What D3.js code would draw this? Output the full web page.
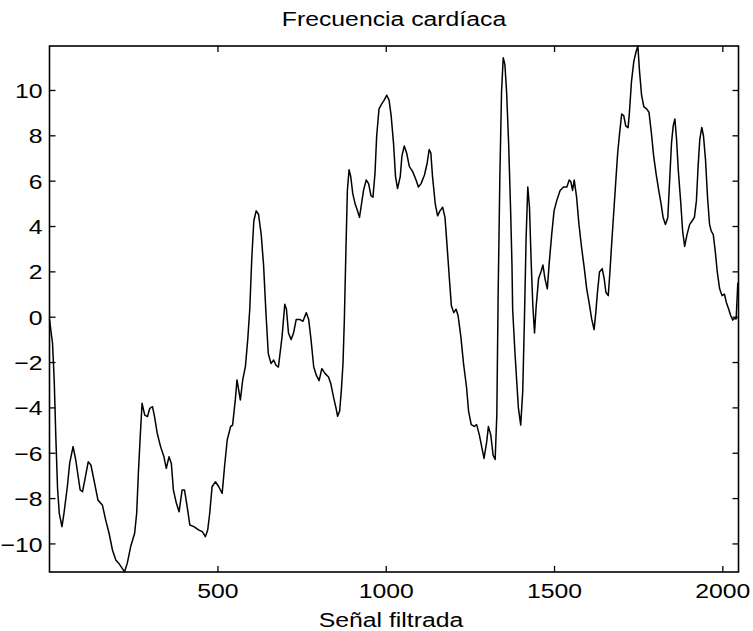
<!DOCTYPE html>
<html>
<head>
<meta charset="utf-8">
<script src="https://cdn.jsdelivr.net/npm/d3@7"></script>
<style>
  body { margin: 0; background: #fff; }
  svg { display: block; }
  text { font-family: "Liberation Sans", Arial, Helvetica, sans-serif; fill: #000; }
</style>
</head>
<body>
<svg width="753" height="631"></svg>
<script>
// sample index of each traced vertex
const sampleIdx = [
  1, 5, 10, 15, 20, 25, 30, 38, 44, 54, 61, 71, 79, 92, 99, 106, 116, 124, 133, 145,
  158, 168, 178, 188, 198, 207, 217, 224, 232, 242, 254, 260, 265, 270, 276, 284, 292, 299, 307, 313,
  321, 331, 341, 348, 356, 363, 369, 378, 386, 395, 402, 410, 418, 430, 445, 455, 464, 471, 477, 484,
  494, 504, 514, 521, 529, 539, 545, 553, 558, 568, 575, 583, 590, 596, 602, 608, 615, 622, 630, 637,
  644, 651, 659, 667, 674, 681, 687, 692, 700, 705, 711, 719, 726, 734, 744, 754, 764, 771, 778, 786,
  794, 802, 810, 820, 830, 837, 845, 852, 857, 863, 868, 873, 877, 882, 886, 891, 896, 902, 909, 916,
  922, 928, 934, 942, 949, 956, 962, 968, 973, 980, 988, 995, 1003, 1010, 1016, 1023, 1029, 1035, 1043, 1048,
  1055, 1062, 1070, 1080, 1090, 1097, 1105, 1115, 1123, 1129, 1134, 1139, 1147, 1154, 1161, 1169, 1176, 1182, 1189, 1195,
  1202, 1209, 1215, 1223, 1231, 1240, 1246, 1254, 1263, 1270, 1278, 1286, 1292, 1300, 1305, 1312, 1319, 1325, 1330, 1334,
  1339, 1344, 1349, 1354, 1359, 1365, 1371, 1375, 1377, 1384, 1389, 1394, 1401, 1407, 1412, 1417, 1422, 1427, 1432, 1437,
  1442, 1447, 1454, 1461, 1467, 1473, 1480, 1486, 1493, 1500, 1508, 1518, 1528, 1538, 1545, 1550, 1555, 1560, 1567, 1574,
  1582, 1590, 1597, 1604, 1612, 1619, 1624, 1629, 1635, 1643, 1649, 1654, 1661, 1666, 1671, 1677, 1683, 1689, 1695, 1701,
  1707, 1713, 1720, 1724, 1730, 1737, 1744, 1749, 1754, 1760, 1767, 1775, 1782, 1789, 1796, 1803, 1811, 1818, 1824, 1831,
  1838, 1844, 1849, 1854, 1859, 1864, 1869, 1876, 1882, 1888, 1895, 1903, 1910, 1917, 1923, 1928, 1933, 1939, 1944, 1950,
  1956, 1962, 1967, 1973, 1979, 1985, 1992, 1999, 2006, 2012, 2019, 2025, 2031, 2036, 2041, 2046
];

// filtered heart-rate signal at those indices
const signal = [
  -0.1, -0.6, -1.17, -2.8, -5.4, -7.6, -8.67, -9.26, -8.67, -7.5, -6.46, -5.73, -6.32, -7.64, -7.72, -7.2, -6.4, -6.54, -7.2, -8.09,
  -8.3, -8.97, -9.55, -10.29, -10.73, -10.88, -11.1, -11.25, -10.88, -10.15, -9.55, -8.67, -6.91, -5.44, -3.82, -4.34, -4.41, -4.04, -3.97, -4.41,
  -5.14, -5.73, -6.18, -6.69, -6.18, -6.47, -7.64, -8.23, -8.6, -7.64, -7.64, -8.38, -9.19, -9.26, -9.41, -9.48, -9.7, -9.41, -8.67, -7.5,
  -7.28, -7.5, -7.79, -6.62, -5.44, -4.85, -4.78, -3.67, -2.79, -3.67, -2.79, -2.2, -1.0, 0.34, 2.58, 4.22, 4.67, 4.52, 3.62, 2.28,
  0.18, -1.62, -2.06, -1.91, -2.14, -2.22, -1.49, -0.87, 0.55, 0.33, -0.72, -1.01, -0.72, -0.12, -0.12, -0.2, 0.18, -0.12, -1.01, -2.22,
  -2.59, -2.82, -2.29, -2.51, -2.66, -2.97, -3.56, -4.01, -4.39, -4.16, -3.27, -2.06, -0.12, 3.17, 5.57, 6.48, 6.18, 5.43, 4.98, 4.67,
  4.38, 4.98, 5.57, 6.03, 5.87, 5.34, 5.27, 6.32, 7.97, 9.17, 9.39, 9.54, 9.77, 9.54, 8.87, 7.67, 6.18, 5.65, 6.18, 7.08,
  7.53, 7.22, 6.63, 6.4, 6.03, 5.72, 5.87, 6.25, 6.77, 7.37, 7.22, 6.18, 4.98, 4.45, 4.67, 4.83, 4.38, 3.17, 1.68, 0.48,
  0.18, 0.33, 0.04, -0.87, -2.06, -3.11, -4.16, -4.76, -4.84, -4.76, -5.21, -5.81, -6.25, -5.51, -4.84, -5.21, -6.11, -6.3, -4.32, 1.08,
  6.18, 9.92, 11.42, 11.12, 9.92, 7.67, 4.67, 2.28, 0.33, -1.62, -2.82, -4.01, -4.78, -3.27, -0.12, 3.48, 5.72, 4.83, 2.43, 0.48,
  -0.72, 0.48, 1.68, 1.97, 2.28, 1.68, 1.23, 2.43, 3.62, 4.67, 5.12, 5.57, 5.72, 5.72, 6.03, 5.95, 5.57, 6.03, 5.27, 4.07,
  3.03, 2.12, 1.23, 0.63, -0.12, -0.57, 0.18, 1.08, 1.97, 2.12, 1.68, 1.08, 0.93, 1.97, 3.17, 4.53, 5.87, 7.22, 8.13, 8.94,
  8.87, 8.42, 8.34, 9.02, 10.37, 11.26, 11.71, 11.94, 10.82, 9.77, 9.25, 9.17, 9.02, 8.13, 7.08, 6.32, 5.57, 4.98, 4.38, 4.07,
  4.38, 6.18, 7.67, 8.42, 8.72, 7.82, 6.48, 5.12, 3.78, 3.1, 3.62, 4.07, 4.22, 4.38, 5.12, 6.63, 7.82, 8.35, 7.97, 6.92,
  5.27, 4.07, 3.78, 3.62, 2.88, 1.97, 1.23, 0.93, 1.0, 0.63, 0.33, 0.04, -0.15, -0.07, -0.1, 1.5
];

const xTicks = [500, 1000, 1500, 2000];
const yTicks = [-10, -8, -6, -4, -2, 0, 2, 4, 6, 8, 10];
const titleText = "Frecuencia cardíaca";
const xLabelText = "Señal filtrada";

const svg = d3.select("svg");
const plotLeft = 49.5, plotRight = 738.5, plotTop = 46, plotBottom = 572;
const stretch = 1.18;   // the scan's text is a bit wide
const tickLen = 6;

const x = d3.scaleLinear().domain([1, 2048]).range([plotLeft, plotRight]);
const y = d3.scaleLinear().domain([-11.26, 11.94]).range([plotBottom, plotTop]);

const pts = sampleIdx.map((d, i) => [d, signal[i]]);

// curve
svg.append("path")
  .datum(pts)
  .attr("fill", "none")
  .attr("stroke", "#000")
  .attr("stroke-width", 1.5)
  .attr("stroke-linejoin", "round")
  .attr("d", d3.line().x(d => x(d[0])).y(d => y(d[1])));

// bottom + top ticks (inward)
const gx = svg.append("g")
  .attr("transform", `translate(0,${plotBottom})`)
  .call(d3.axisBottom(x).tickValues(xTicks).tickSize(-tickLen).tickSizeOuter(0).tickPadding(0).tickFormat(d3.format("d")));
gx.select(".domain").remove();
gx.selectAll("text")
  .attr("x", 0).attr("y", 26).attr("dy", 0)
  .attr("transform", `scale(${stretch},1)`)
  .style("font-size", "21px");
gx.selectAll("line").attr("stroke", "#000").attr("stroke-width", 1.3);

svg.append("g")
  .attr("transform", `translate(0,${plotTop})`)
  .call(d3.axisTop(x).tickValues(xTicks).tickSize(-tickLen).tickSizeOuter(0).tickFormat(""))
  .call(g => g.select(".domain").remove())
  .selectAll("line").attr("stroke", "#000").attr("stroke-width", 1.3);

// left + right ticks
const gy = svg.append("g")
  .attr("transform", `translate(${plotLeft},0)`)
  .call(d3.axisLeft(y).tickValues(yTicks).tickSize(-tickLen).tickSizeOuter(0).tickPadding(0).tickFormat(d3.format("d")));
gy.select(".domain").remove();
gy.selectAll("text")
  .attr("x", -6).attr("dy", "0.36em")
  .attr("transform", `scale(${stretch},1)`)
  .style("font-size", "21px");
gy.selectAll("line").attr("stroke", "#000").attr("stroke-width", 1.3);

svg.append("g")
  .attr("transform", `translate(${plotRight},0)`)
  .call(d3.axisRight(y).tickValues(yTicks).tickSize(-tickLen).tickSizeOuter(0).tickFormat(""))
  .call(g => g.select(".domain").remove())
  .selectAll("line").attr("stroke", "#000").attr("stroke-width", 1.3);

// frame
svg.append("rect")
  .attr("x", plotLeft).attr("y", plotTop)
  .attr("width", plotRight - plotLeft).attr("height", plotBottom - plotTop)
  .attr("fill", "none")
  .attr("stroke", "#000")
  .attr("stroke-width", 1.6);

// title + x label
const cx = (plotLeft + plotRight) / 2;
svg.append("text")
  .attr("transform", `translate(${cx},26) scale(${stretch},1)`)
  .attr("text-anchor", "middle")
  .style("font-size", "21px")
  .text(titleText);

svg.append("text")
  .attr("transform", `translate(${cx - 3},627) scale(${stretch},1)`)
  .attr("text-anchor", "middle")
  .style("font-size", "21px")
  .text(xLabelText);
</script>
</body>
</html>
